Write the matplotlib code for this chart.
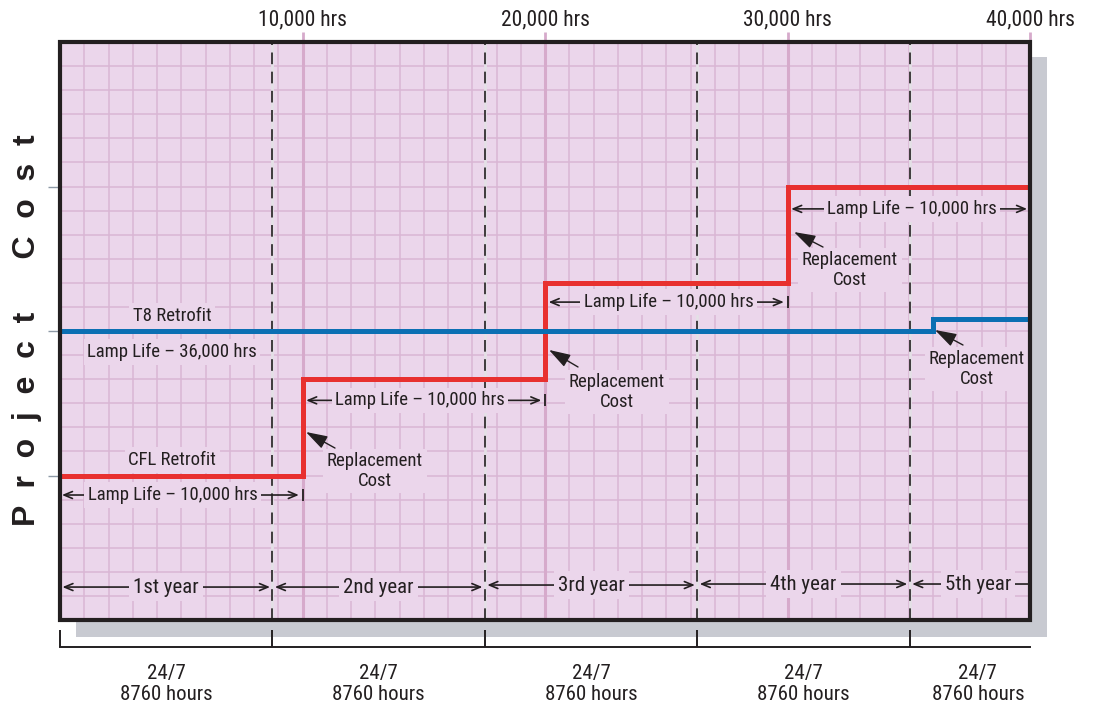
import numpy as np
import matplotlib
matplotlib.use("Agg")
import matplotlib.pyplot as plt
import matplotlib.font_manager as fm
from matplotlib.patches import Rectangle

# ---------------- data ----------------
cfl_hours = [0, 10000, 20000, 30000, 40000]
cfl_cost = [1.0, 1.667, 2.333, 3.0, 3.0]
t8_hours = [0, 36000, 40000]
t8_cost = [2.0, 2.08, 2.08]
year_bounds = [0, 8760, 17520, 26280, 35040]
year_labels = ["1st year", "2nd year", "3rd year", "4th year", "5th year"]
top_ticks = [10000, 20000, 30000, 40000]
top_labels = ["10,000 hrs", "20,000 hrs", "30,000 hrs", "40,000 hrs"]
bottom_label = "24/7\n8760 hours"
lamp_life_label = "Lamp Life – 10,000 hrs"
t8_life_label = "Lamp Life – 36,000 hrs"

# ---- choose a condensed font if one exists ----
cands = []
for f in fm.fontManager.ttflist:
    nm = f.name
    st = str(f.stretch)
    if f.style != "normal":
        continue
    if ("Narrow" in nm or "Condensed" in nm or st in ("condensed", "semi-condensed")
            or "Condensed" in f.fname or "Narrow" in f.fname):
        if "Liberation Sans Narrow" in nm or "LiberationSansNarrow-Regular" in f.fname:
            score = 5
        elif "Roboto" in nm or "Roboto" in f.fname:
            score = 4
        elif "Open Sans" in nm or "OpenSans" in f.fname:
            score = 3
        elif "DejaVu" in nm:
            score = 2
        else:
            score = 1
        cands.append((score, f.fname))
cands = [c for c in cands if "Bold" not in c[1] and "Italic" not in c[1]
         and "Oblique" not in c[1] and "Light" not in c[1]
         and "Medium" not in c[1] and "Black" not in c[1] and "Thin" not in c[1]]
if cands:
    cands.sort(reverse=True)
    cond_fp = fm.FontProperties(fname=cands[0][1])
    SCALE = 1.0
else:
    cond_fp = fm.FontProperties(family="Liberation Sans")
    SCALE = 0.86

def tp(size):
    p = cond_fp.copy()
    p.set_size(size * SCALE)
    return p

BG = "#ebd6eb"
GRID = "#dab6d4"
GRIDMAJ = "#d6aacb"
DARK = "#231f20"
RED = "#e8302f"
BLUE = "#0b6fb3"

W, H = 1099, 705
fig = plt.figure(figsize=(W / 100, H / 100), dpi=100)
L, R, T, B = 60, 1030, 42, 620
ax = fig.add_axes([L / W, 1 - B / H, (R - L) / W, (B - T) / H])
ax.set_xlim(0, 40000)
ax.set_ylim(0, 4)
ax.set_facecolor(BG)

# shadow
fig.add_artist(Rectangle((76 / W, 1 - 637 / H), (1047 - 76) / W, (637 - 57) / H,
                         transform=fig.transFigure, facecolor="#c8cad1",
                         edgecolor="none", zorder=-5))

# grid
for xv in np.arange(1000, 40000, 1000):
    if xv % 10000 == 0:
        ax.axvline(xv, color=GRIDMAJ, lw=2.2, zorder=0.6)
    else:
        ax.axvline(xv, color=GRID, lw=1.1, zorder=0.5)
for yv in np.arange(1, 24) / 6.0:
    ax.axhline(yv, color=GRID, lw=1.1, zorder=0.5)

# dashed year boundaries
for xb in year_bounds[1:]:
    ax.axvline(xb, color="#e4e0e6", lw=2.0, zorder=1)
    ax.axvline(xb, color=DARK, lw=1.2, ls=(0, (7, 4.5)), zorder=1.1)

# step lines
ax.plot(cfl_hours, cfl_cost, drawstyle="steps-post", color=RED, lw=3.6,
        solid_joinstyle="miter", zorder=4)
ax.plot(t8_hours, t8_cost, drawstyle="steps-post", color=BLUE, lw=3.6,
        solid_joinstyle="miter", zorder=4)

tb = dict(facecolor=BG, edgecolor="none", pad=2.5)

def harrow(x0, x1, y, left=True, right=True, bar=None):
    style = "<->" if (left and right) else ("<-" if left else "->")
    ax.annotate("", xy=(x1, y), xytext=(x0, y),
                arrowprops=dict(arrowstyle=style + ",head_length=0.6,head_width=0.25",
                                color=DARK, lw=1.2, shrinkA=0, shrinkB=0),
                zorder=5, annotation_clip=False)
    if bar is not None:
        ax.plot([bar], [y], marker="|", ms=9, mew=1.3, color=DARK, zorder=5,
                clip_on=False)

# lamp life arrows
lamp_rows = [(80, 9850, 10000, 0.865, 4640),
             (10150, 19850, 20000, 1.52, 14845),
             (20150, 29850, 30000, 2.20, 25100),
             (30150, 39880, None, 2.845, 35134)]
for x0, x1, bar, y, xc in lamp_rows:
    harrow(x0, x1, y, bar=bar)
    ax.text(xc, y, lamp_life_label, ha="center", va="center", fontproperties=tp(13.5),
            color=DARK, bbox=tb, zorder=6)

# year arrows
year_y = [0.228, 0.228, 0.242, 0.249, 0.249]
for i, lab in enumerate(year_labels):
    x0 = year_bounds[i] + 100
    if i < 4:
        x1 = year_bounds[i + 1] - 100
        xc = (year_bounds[i] + year_bounds[i + 1]) / 2
        harrow(x0, x1, year_y[i])
    else:
        x1 = 40000
        xc = 37850
        harrow(x0, x1, year_y[i], right=False)
    ax.text(xc, year_y[i], lab, ha="center", va="center", fontproperties=tp(15),
            color=DARK, bbox=dict(facecolor=BG, edgecolor="none", pad=3), zorder=6)

# series labels
for txt, yy in [("T8 Retrofit", 2.104), (t8_life_label, 1.855), ("CFL Retrofit", 1.107)]:
    ax.text(4620, yy, txt, ha="center", va="center", fontproperties=tp(13.5),
            color=DARK, bbox=tb, zorder=6)

# replacement cost callouts
repl = [((10144, 1.301), (11340, 1.190), (12990, 1.031)),
        ((20165, 1.869), (21361, 1.751), (22969, 1.578)),
        ((30268, 2.685), (31464, 2.581), (32577, 2.422)),
        ((36082, 2.007), (37237, 1.903), (37814, 1.737))]
for tip, tail, txt in repl:
    ax.annotate("", xy=tip, xytext=tail,
                arrowprops=dict(arrowstyle="-|>,head_length=1.1,head_width=0.35",
                                color=DARK, lw=1.0, shrinkA=0, shrinkB=0,
                                mutation_scale=12),
                zorder=6)
    ax.text(txt[0], txt[1], "Replacement\nCost", ha="center", va="center",
            fontproperties=tp(13.5), color=DARK, linespacing=1.1, bbox=tb, zorder=6)

# border
ax.add_patch(Rectangle((0, 0), 1, 1, transform=ax.transAxes, fill=False,
                       edgecolor=DARK, lw=3.0, zorder=10, clip_on=False))

# spines / axes
for s in ["top", "left", "right"]:
    ax.spines[s].set_visible(False)
ax.spines["bottom"].set_position(("outward", 19.4))
ax.spines["bottom"].set_color(DARK)
ax.spines["bottom"].set_linewidth(1.4)
ax.set_xticks(year_bounds)
ax.set_xticklabels([])
ax.tick_params(axis="x", which="major", direction="in", length=12.5, width=1.4,
               color=DARK)
centers = [(year_bounds[i] + year_bounds[i + 1]) / 2 for i in range(4)] + [37850]
ax.set_xticks(centers, minor=True)
ax.set_xticklabels([bottom_label] * 5, minor=True, fontproperties=tp(15),
                   color=DARK, linespacing=1.12)
ax.tick_params(axis="x", which="minor", length=0, pad=12.5)

ax.set_yticks([1, 2, 3])
ax.set_yticklabels([])
ax.tick_params(axis="y", direction="out", length=9, width=1.0, color="#8d99a6")

sec = ax.secondary_xaxis("top")
sec.set_xticks(top_ticks)
sec.set_xticklabels(top_labels, fontproperties=tp(15.5), color=DARK)
sec.tick_params(direction="out", length=7.5, width=2.0, color=GRIDMAJ, pad=0.5)
sec.spines["top"].set_visible(False)
sec.xaxis.get_major_ticks()[-1].tick2line.set_color("#b9bcc6")
sec.xaxis.get_major_ticks()[-1].tick1line.set_color("#b9bcc6")

fig.text(27 / W, 1 - 330 / H, "P  r  o  j  e  c  t      C  o  s  t",
         rotation=90, ha="center", va="center", fontsize=23,
         fontweight="black", family=["Liberation Sans", "DejaVu Sans"], color=DARK)

fig.savefig("out.png", dpi=100, facecolor="white")
